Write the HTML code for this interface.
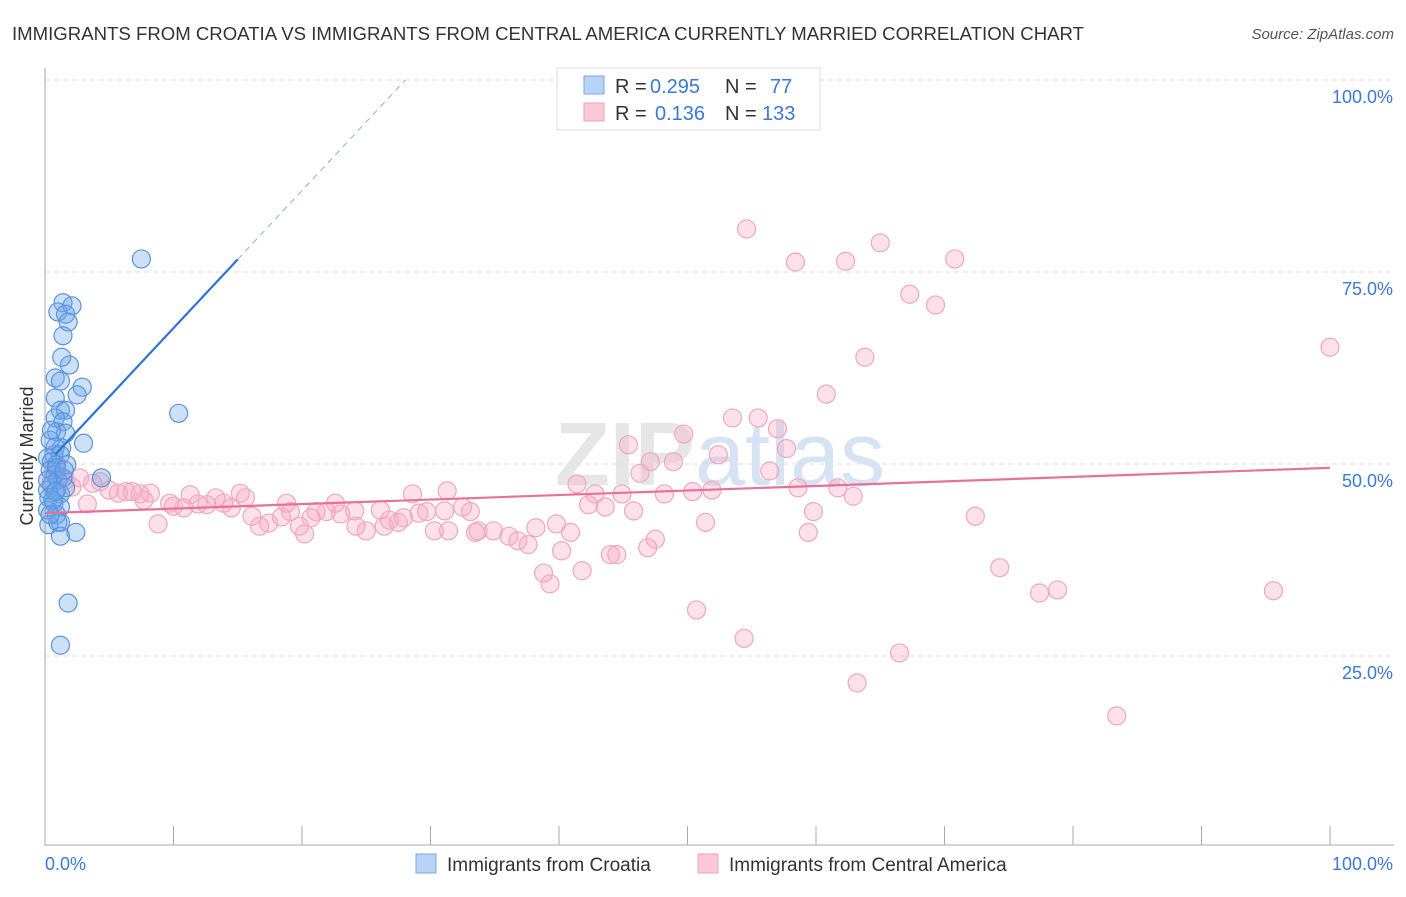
<!DOCTYPE html>
<html><head><meta charset="utf-8"><style>
body{margin:0;background:#fff;font-family:"Liberation Sans",sans-serif}
svg text{font-family:"Liberation Sans",sans-serif}
</style></head><body>
<svg width="1406" height="892" viewBox="0 0 1406 892">
<text x="12" y="40" font-size="18.6" fill="#333">IMMIGRANTS FROM CROATIA VS IMMIGRANTS FROM CENTRAL AMERICA CURRENTLY MARRIED CORRELATION CHART</text>
<text x="1394" y="39" font-size="15" fill="#555" text-anchor="end" font-style="italic">Source: ZipAtlas.com</text>
<text x="720" y="485" font-size="90" fill="#e6e6e6" text-anchor="middle" font-weight="bold">ZIP<tspan fill="#d6e3f3" font-weight="normal">atlas</tspan></text>
<g id="grid"></g>
<g id="axes"></g>
<text transform="translate(33,456) rotate(-90)" font-size="18" fill="#333" text-anchor="middle">Currently Married</text>
<g id="pink"></g>
<g id="blue"></g>
<g id="lines"></g>
<g>
<rect x="557" y="68" width="263" height="62" fill="#fff" stroke="#ddd"/>
<rect x="584" y="76" width="20" height="18" fill="#b8d3f5" stroke="#7aaae6"/>
<rect x="584" y="103" width="20" height="18" fill="#fcc8d6" stroke="#f0a0b8"/>
<text x="615" y="93" font-size="20" fill="#333">R =</text>
<text x="650" y="93" font-size="20" fill="#3b78d8">0.295</text>
<text x="725" y="93" font-size="20" fill="#333">N =</text>
<text x="770" y="93" font-size="20" fill="#3b78d8">77</text>
<text x="615" y="120" font-size="20" fill="#333">R =</text>
<text x="655" y="120" font-size="20" fill="#3b78d8">0.136</text>
<text x="725" y="120" font-size="20" fill="#333">N =</text>
<text x="762" y="120" font-size="20" fill="#3b78d8">133</text>
</g>
<g>
<rect x="416" y="854" width="20" height="19" fill="#b8d3f5" stroke="#7aaae6"/>
<text x="447" y="871" font-size="19" fill="#333">Immigrants from Croatia</text>
<rect x="698" y="854" width="20" height="19" fill="#fcc8d6" stroke="#f0a0b8"/>
<text x="729" y="871" font-size="19" fill="#333">Immigrants from Central America</text>
</g>
</svg>
<script>
const blueX=[7.5,10.4,1.4,2.1,1.0,1.6,1.8,1.4,1.9,1.3,0.8,1.2,2.9,0.8,2.5,1.2,1.6,0.8,1.4,0.9,1.6,3.0,0.8,1.3,0.7,1.2,0.2,0.5,0.9,1.7,4.4,0.4,0.8,1.4,0.5,0.2,0.9,1.2,0.3,0.7,1.2,0.2,0.9,1.2,0.3,1.0,2.4,1.2,1.8,1.2,0.4,0.5,0.9,1.0,0.6,1.6,1.5,0.4,0.2,0.8];
const blueY=[76.7,56.6,71.0,70.6,69.8,69.5,68.5,66.7,62.9,63.9,61.2,60.8,60.0,58.6,59.0,57.0,57.0,56.0,55.5,54.2,54.0,52.7,52.2,52.1,51.2,51.2,50.8,50.3,49.9,49.9,48.2,49.2,48.6,48.2,47.3,46.6,46.6,46.1,45.6,44.9,44.4,44.0,43.4,42.4,42.1,42.4,41.1,40.6,31.9,26.4,53.1,54.4,49.5,47.9,45.3,46.9,49.2,43.4,47.9,46.4];
const pinkX=[54.6,58.4,62.3,65.0,70.8,67.3,69.3,63.8,60.8,100,53.5,55.5,57.0,57.7,49.7,45.4,52.4,47.1,48.9,46.3,56.4,58.6,61.7,62.9,59.8,59.4,51.4,72.4,74.3,77.4,78.8,95.6,50.7,54.4,66.5,63.2,83.4,41.4,42.8,44.9,43.6,42.3,45.8,48.2,50.4,51.9,47.5,46.9,44.0,44.5,41.8,40.2,39.3,38.8,40.9,39.8,38.2,37.6,36.8,36.1,34.9,33.7,33.1,33.5,31.4,30.3,31.1,32.5,31.3,28.6,29.1,29.7,27.9,27.5,26.8,26.1,26.4,25.0,24.2,24.1,23.0,22.6,21.9,21.1,20.7,20.2,19.8,19.1,18.8,18.4,17.4,16.7,16.1,15.6,15.2,14.5,13.9,13.3,12.6,11.9,11.3,10.8,10.0,9.7,8.8,8.2,7.7,7.4,6.8,6.3,5.7,5.0,4.3,3.7,3.3,2.7,2.1,1.6,1.2,0.9,0.5];
const pinkY=[80.6,76.3,76.4,78.8,76.7,72.1,70.7,63.9,59.1,65.2,56.0,56.0,54.6,52.0,53.9,52.5,51.2,50.3,50.3,48.8,49.1,46.9,46.9,45.8,43.8,41.1,42.4,43.2,36.5,33.2,33.6,33.5,31.0,27.3,25.4,21.5,17.2,47.4,46.1,46.1,44.4,44.7,43.9,46.1,46.4,46.6,40.2,39.1,38.2,38.2,36.1,38.7,34.4,35.8,41.1,42.2,41.7,39.5,40.0,40.6,41.3,41.3,43.8,41.1,41.3,41.3,43.9,44.4,46.5,46.1,43.6,43.8,43.0,42.4,42.7,44.0,41.9,41.3,41.9,43.9,43.5,44.9,43.8,43.8,43.0,40.9,41.9,43.8,44.9,43.1,42.3,41.9,43.2,45.6,46.2,44.3,44.9,45.6,44.7,44.8,46.0,44.3,44.5,44.9,42.2,46.2,45.3,46.1,46.4,46.4,46.2,46.6,47.7,47.5,44.8,48.2,47.0,47.9,48.4,49.2,47.9];
const yTicks=[25,50,75,100];
const yTickLabels=["25.0%","50.0%","75.0%","100.0%"];
const xTicks=[0,10,20,30,40,50,60,70,80,90,100];
const blueTrend=[49.8,1.79];
const pinkTrend=[43.6,0.059];
const NS="http://www.w3.org/2000/svg";
const sx=v=>45+v*12.85, sy=v=>848-v*7.68;
function mk(t,a,p){const e=document.createElementNS(NS,t);for(const k in a)e.setAttribute(k,a[k]);p.appendChild(e);return e;}
const grid=document.getElementById('grid'),axes=document.getElementById('axes');
yTicks.forEach((t,i)=>{
 const l=mk('line',{x1:45,x2:1394,y1:sy(t),y2:sy(t),stroke:'#ddd','stroke-dasharray':'5,4'},grid);
 
 
 const tx=mk('text',{x:1393,y:sy(t)+23,'font-size':18,fill:'#3b78d8','text-anchor':'end'},grid);
 tx.textContent=yTickLabels[i];
 
 
});
mk('line',{x1:45,x2:45,y1:68,y2:846,stroke:'#aaa'},axes);
mk('line',{x1:45,x2:1394,y1:845,y2:845,stroke:'#aaa'},axes);
xTicks.forEach(t=>{const l=mk('line',{x1:sx(t),x2:sx(t),y1:826,y2:845,stroke:'#aaa'},axes);
 
 });
const x0=mk('text',{x:45,y:870,'font-size':18,fill:'#3b78d8'},axes);x0.textContent='0.0%';


const x1=mk('text',{x:1393,y:870,'font-size':18,fill:'#3b78d8','text-anchor':'end'},axes);x1.textContent='100.0%';


const pg=document.getElementById('pink');
pinkX.forEach((x,i)=>{const c=mk('circle',{cx:sx(x),cy:sy(pinkY[i]),r:9,fill:'rgba(246,170,195,0.35)',stroke:'#f2a6bf','stroke-width':1.2},pg);
 
 });
const bg=document.getElementById('blue');
blueX.forEach((x,i)=>{const c=mk('circle',{cx:sx(x),cy:sy(blueY[i]),r:9,fill:'rgba(110,165,235,0.35)',stroke:'#5b93dc','stroke-width':1.2},bg);
 
 });
const lg=document.getElementById('lines');
const bxEnd=(100-blueTrend[0])/blueTrend[1];
const b1=mk('line',{x1:sx(0.8),y1:sy(blueTrend[0]+blueTrend[1]*0.8),x2:sx(15),y2:sy(blueTrend[0]+blueTrend[1]*15),stroke:'#2a72d8','stroke-width':2.2},lg);


const b2=mk('line',{x1:sx(15),y1:sy(blueTrend[0]+blueTrend[1]*15),x2:sx(bxEnd),y2:sy(100),stroke:'#8aaee0','stroke-width':1,'stroke-dasharray':'6,5'},lg);


const p1=mk('line',{x1:sx(0),y1:sy(pinkTrend[0]),x2:sx(100),y2:sy(pinkTrend[0]+pinkTrend[1]*100),stroke:'#e8709a','stroke-width':2.2},lg);


</script>
</body></html>
